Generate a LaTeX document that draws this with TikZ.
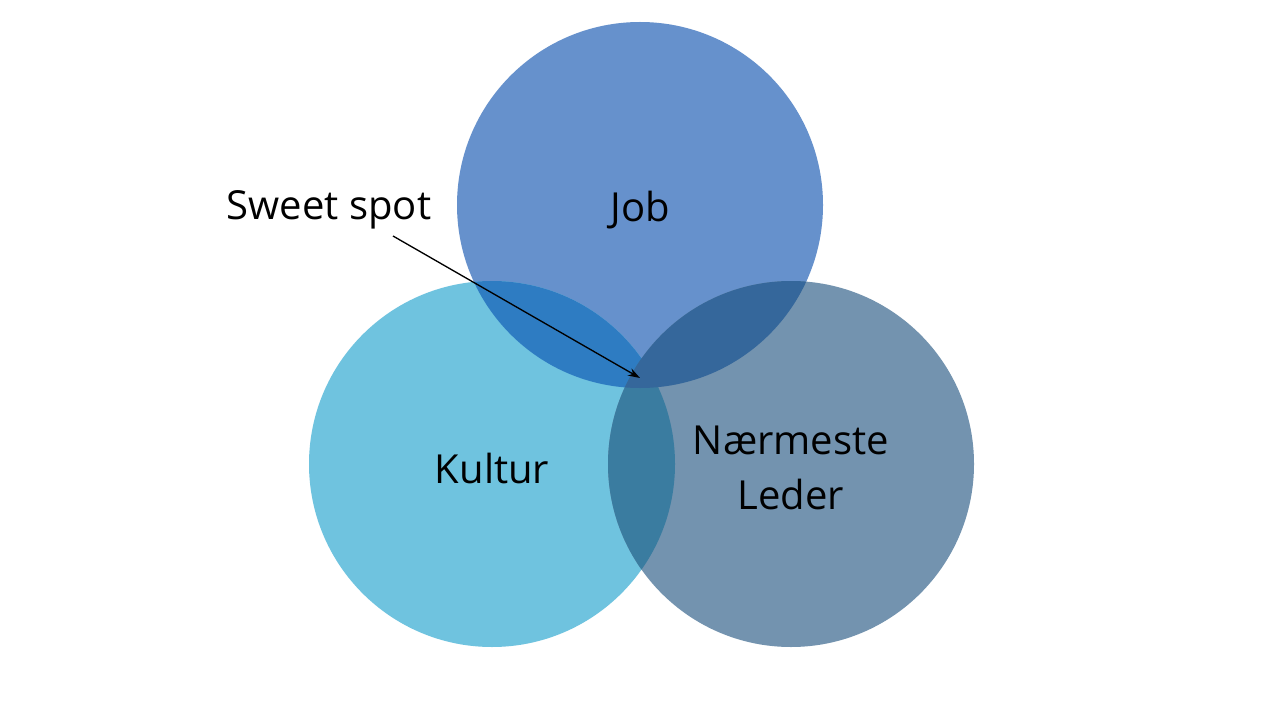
\documentclass[tikz,border=0pt]{standalone}
\usepackage{fontspec}
\setmainfont{Open Sans}
\usetikzlibrary{arrows.meta}
\definecolor{cjob}{HTML}{6691CC}
\definecolor{ckul}{HTML}{6FC3DF}
\definecolor{cled}{HTML}{7393AF}
\definecolor{cjk}{HTML}{2E7CC2}
\definecolor{cjl}{HTML}{35679B}
\definecolor{ckl}{HTML}{3A7CA0}
\tikzset{lbl/.style={font=\fontsize{30}{41}\selectfont, text=black, align=center}}
\begin{document}
\begin{tikzpicture}[x=0.75pt,y=-0.75pt]
\useasboundingbox (0,0) rectangle (1280,720);
\fill[white] (0,0) rectangle (1280,720);
\def\R{183}
\coordinate (J) at (640,205);
\coordinate (K) at (492,464);
\coordinate (L) at (791,464);
\fill[cjob] (J) circle (\R);
\fill[ckul] (K) circle (\R);
\fill[cled] (L) circle (\R);
\begin{scope}\clip (J) circle (\R); \fill[cjk] (K) circle (\R);\end{scope}
\begin{scope}\clip (K) circle (\R); \fill[ckl] (L) circle (\R);\end{scope}
\begin{scope}\clip (J) circle (\R); \fill[cjl] (L) circle (\R);\end{scope}
\node[lbl] (job) at (640,210) {Job};
\node[lbl] (kul) at (492,468) {Kultur};
\node[lbl] (led) at (791,468) {Nærmeste\\Leder};
\node[lbl] (sweet) at (329,210) {Sweet spot};
\coordinate (tail) at (393,236);
\coordinate (tip) at (640,378);
\draw[-{Stealth[length=9pt,width=6pt]}, line width=1pt] (tail) -- (tip);
\end{tikzpicture}
\end{document}
